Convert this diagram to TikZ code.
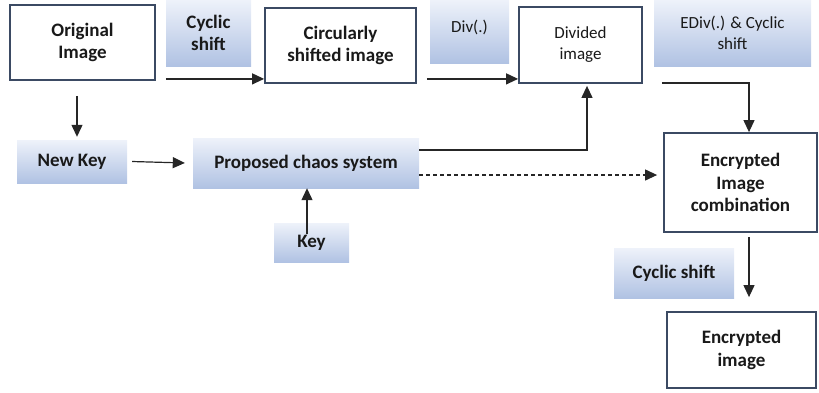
\documentclass[tikz,border=0pt]{standalone}
\usepackage{fontspec}
\setmainfont{Carlito}
\usetikzlibrary{arrows.meta}
\definecolor{boxline}{RGB}{59,74,99}
\definecolor{shadetop}{RGB}{238,242,250}
\definecolor{shadebot}{RGB}{176,194,227}
\tikzset{
    imgbox/.style={draw=boxline, line width=1.8pt, fill=white, align=center, inner sep=2pt},
    opbox/.style={top color=shadetop, bottom color=shadebot, align=center, inner sep=2pt},
    boldtxt/.style={font=\fontsize{19}{22.5}\selectfont\bfseries},
    plaintxt/.style={font=\fontsize{17}{21}\selectfont},
    flow/.style={line width=1.2pt, draw=black!85, -{Triangle[length=12pt,width=11pt]}},
}

\begin{document}
\begin{tikzpicture}[x=1pt, y=-1pt, text=black!90]
    \useasboundingbox (0,0) rectangle (819,392);
    % image boxes
    \coordinate (p1) at (82.5, 42.5);
    \coordinate (p2) at (340.5, 45.5);
    \coordinate (p3) at (580.5, 45);
    \coordinate (p4) at (740.5, 182.5);
    \coordinate (p5) at (741.5, 350);
    % operation labels
    \coordinate (q1) at (208.5, 33);
    \coordinate (q2) at (469.5, 31.5);
    \coordinate (q3) at (732.5, 33);
    \coordinate (q4) at (72, 161.5);
    \coordinate (q5) at (306, 163);
    \coordinate (q6) at (311.5, 242.5);
    \coordinate (q7) at (674, 273);
    \node[imgbox, boldtxt, minimum width=145, minimum height=75] (orig) at (p1) {Original\\Image};
    \node[imgbox, boldtxt, minimum width=151, minimum height=75] (circ) at (p2) {Circularly\\shifted image};
    \node[imgbox, plaintxt, minimum width=123, minimum height=76] (divd) at (p3) {Divided\\image};
    \node[imgbox, boldtxt, minimum width=153, minimum height=99] (combo) at (p4) {Encrypted\\Image\\combination};
    \node[imgbox, boldtxt, minimum width=149, minimum height=76] (encr) at (p5) {Encrypted\\image};
    \node[opbox, boldtxt, minimum width=85, minimum height=66] (cyc) at (q1) {Cyclic\\shift};
    \node[opbox, plaintxt, minimum width=79, minimum height=63, text depth=10pt] (div) at (q2) {Div(.)};
    \node[opbox, plaintxt, minimum width=157, minimum height=66] (ediv) at (q3) {EDiv(.) \& Cyclic\\shift};
    \node[opbox, boldtxt, minimum width=110, minimum height=43] (newkey) at (q4) {New Key};
    \node[opbox, boldtxt, minimum width=226, minimum height=50] (chaos) at (q5) {Proposed chaos system};
    \node[opbox, boldtxt, minimum width=75, minimum height=39] (key) at (q6) {Key};
    \node[opbox, boldtxt, minimum width=120, minimum height=50] (cyc2) at (q7) {Cyclic shift};
    % connectors
    \draw[flow] ([xshift=10pt,yshift=2pt]orig.south east) -- ([yshift=5pt]circ.south west);
    \draw[flow] ([xshift=10pt,yshift=5pt]circ.south east) -- ([yshift=5pt]divd.south west);
    \draw[flow] ([xshift=19pt,yshift=1pt]divd.south east) -| ([xshift=8.5pt]combo.north);
    \draw[flow] ([xshift=-5.5pt,yshift=-15pt]orig.south) -- ([xshift=5pt,yshift=3pt]newkey.north);
    \draw[flow] ([xshift=5pt]newkey.east) -- ([xshift=-8pt]chaos.west);
    \draw[flow] ([xshift=-4.5pt,yshift=-11pt]key.north) -- ([xshift=-4.5pt]key.north |- chaos.south);
    \draw[flow] ([yshift=13pt]chaos.east) -| ([xshift=6.5pt,yshift=-2pt]divd.south);
    \draw[flow, dash pattern=on 4pt off 3pt] ([yshift=-12pt]chaos.east) -- ([xshift=-6pt,yshift=7.5pt]combo.west);
    \draw[flow] ([xshift=8.5pt,yshift=-4.5pt]combo.south) -- ([xshift=7.5pt,yshift=14pt]encr.north);
\end{tikzpicture}
\end{document}
